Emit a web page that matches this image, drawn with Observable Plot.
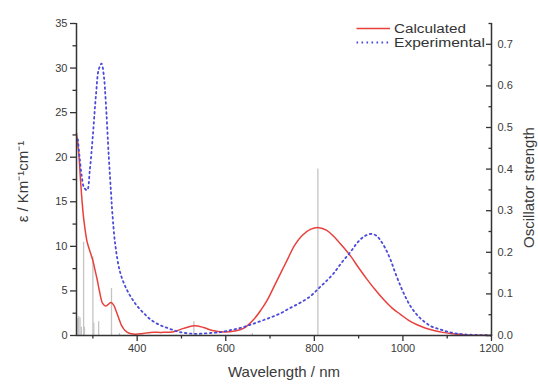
<!DOCTYPE html>
<html><head><meta charset="utf-8">
<script src="https://cdn.jsdelivr.net/npm/d3@7"></script>
<script src="https://cdn.jsdelivr.net/npm/@observablehq/plot@0.6"></script>
<style>
body{margin:0;background:#fff;font-family:"Liberation Sans",Arial,sans-serif;}
#wrap{position:relative;width:538px;height:385px;}
</style></head><body><div id="wrap"></div>
<script>
// Calculated spectrum (ε, left axis)
const calcNm  = [263,268,272,276,280,287,295,300,305,310,316,322,329,335,341,347,352,358,364,372,382,395,410,430,455,480,505,528,550,570,595,620,640,663,680,694,710,724,740,754,772,791,810,828,844,862,882,900,919,938,957,975,995,1013,1032,1050,1070,1090,1108,1125,1145,1170,1200];
const calcEps = [22.7,20.5,17.5,14.8,12.8,10.5,9.2,8.4,7.3,6.2,4.7,3.6,3.3,3.5,3.7,3.4,2.8,2.0,1.2,0.6,0.25,0.15,0.2,0.35,0.35,0.4,0.8,1.1,0.9,0.55,0.4,0.5,0.8,1.8,2.9,4.0,5.6,7.0,8.6,10.0,11.2,11.9,12.1,11.8,11.1,10.1,8.9,7.6,6.3,5.1,4.0,3.1,2.35,1.7,1.2,0.85,0.56,0.35,0.22,0.13,0.07,0.03,0.01];
// Experimental spectrum (ε, left axis)
const expNm  = [266,270,275,280,287,293,300,307,313,319.5,325,329,336,341,344,351,362,377,390,400,415,430,450,468,488,505,525,543,565,588,610,633,655,678,700,724,746,769,791,810,827,844,862,882,897,912,928,940,949,960,972,983,995,1006,1017,1032,1047,1065,1085,1103,1122,1140,1160,1180,1200];
const expEps = [22.0,20.0,17.8,16.6,16.3,18.5,22.5,27.0,29.8,30.5,29.0,26.3,20.0,16.0,13.7,10.0,7.0,5.1,4.0,3.3,2.5,1.8,1.2,0.85,0.5,0.3,0.2,0.2,0.28,0.37,0.6,0.85,1.2,1.6,2.0,2.5,3.1,3.7,4.4,5.3,6.1,7.0,8.2,9.4,10.4,11.1,11.4,11.2,10.7,9.8,8.5,7.0,5.5,4.3,3.3,2.3,1.6,1.0,0.67,0.4,0.22,0.12,0.07,0.04,0.02];
// Oscillator strengths (right axis)
const stickNm = [266,268,271,274,279,281,300,302,313,342,360,528,660,808];
const stickF  = [0.04,0.045,0.042,0.02,0.224,0.02,0.189,0.03,0.033,0.113,0.005,0.033,0.005,0.40];
// Axis ticks
const xMajor = [400,600,800,1000,1200];
const xMinor = [300,500,700,900,1100];
const yMajor = [0,5,10,15,20,25,30,35];
const yMinor = [2.5,7.5,12.5,17.5,22.5,27.5,32.5];
const rMajor = [0,0.1,0.2,0.3,0.4,0.5,0.6,0.7];
const rMinor = [0.05,0.15,0.25,0.35,0.45,0.55,0.65,0.75];
const seriesNames = ["Calculated","Experimental"];
const seriesColors = ["#e8413c","#4b4bdb"];
const DOTS = "1.6,3.4";

const K = 35/0.75; // oscillator strength -> ε scale
const calc = calcNm.map((x,i)=>({x, y:calcEps[i]}));
const exp = expNm.map((x,i)=>({x, y:expEps[i]}));
const sticks = stickNm.map((x,i)=>({x, f:stickF[i]}));
const AX = "#333";
const TXT = "#3a3a3a";

const chart = Plot.plot({
  width:538, height:385,
  marginLeft:76, marginRight:47, marginTop:23, marginBottom:50,
  x:{domain:[263,1200], label:null},
  y:{domain:[0,35], label:null},
  style:{fontFamily:"'Liberation Sans', Arial, sans-serif", fontSize:"11px", color:TXT, background:"#fff"},
  marks:[
    Plot.ruleX(sticks, {x:"x", y1:0, y2:d=>d.f*K, stroke:"#c4c4c4", strokeWidth:1.3}),
    Plot.line(calc, {x:"x", y:"y", stroke:seriesColors[0], strokeWidth:1.5, curve:"catmull-rom"}),
    Plot.line(exp, {x:"x", y:"y", stroke:seriesColors[1], strokeWidth:1.8, strokeDasharray:DOTS, curve:"catmull-rom"}),
    // frame lines
    Plot.ruleY([0], {stroke:AX, strokeWidth:1.5}),
    Plot.ruleX([263], {stroke:AX, strokeWidth:1.5}),
    Plot.ruleX([1200], {stroke:AX, strokeWidth:1.5}),
    // x axis
    Plot.axisX({ticks:xMajor, tickSize:6, tickPadding:3, tickFormat:d=>String(d), label:null, stroke:AX, strokeWidth:1.3}),
    Plot.axisX({ticks:xMinor, tickSize:3.5, tickFormat:()=>"", label:null, stroke:AX, strokeWidth:1.3}),
    // left axis
    Plot.axisY({ticks:yMajor, tickSize:6, tickPadding:3, tickFormat:d=>String(d), label:null, stroke:AX, strokeWidth:1.3}),
    Plot.axisY({ticks:yMinor, tickSize:3.5, tickFormat:()=>"", label:null, stroke:AX, strokeWidth:1.3}),
    // right axis (oscillator strength)
    Plot.axisY({anchor:"right", ticks:rMajor.map(v=>v*K), tickSize:0, tickPadding:6, tickFormat:v=>(v/K).toFixed(1), label:null}),
    Plot.axisY({anchor:"right", ticks:rMajor.map(v=>v*K), tickSize:-6, tickFormat:()=>"", label:null, stroke:AX, strokeWidth:1.3}),
    Plot.axisY({anchor:"right", ticks:rMinor.map(v=>v*K), tickSize:-3.5, tickFormat:()=>"", label:null, stroke:AX, strokeWidth:1.3}),
    // axis titles
    Plot.text(["Wavelength / nm"], {frameAnchor:"bottom", dy:41, fontSize:15, fill:TXT, textAnchor:"middle"}),
    Plot.text(["ε / Km⁻¹cm⁻¹"], {frameAnchor:"left", dx:-53, dy:2, rotate:-90, fontSize:15, fill:TXT, textAnchor:"middle"}),
    Plot.text(["Oscillator strength"], {frameAnchor:"right", dx:38, dy:8, rotate:-90, fontSize:15, fill:TXT, textAnchor:"middle"})
  ]
});
document.getElementById("wrap").appendChild(chart);

// legend (inside plot, top right)
const svg = d3.select(chart);
const lg = svg.append("g").attr("font-family","'Liberation Sans', Arial, sans-serif")
  .attr("font-size",12.5).attr("fill","#333").attr("text-anchor","start");
const ly = [28.5, 42.5];
const by = [33, 47];
const tl = [72, 91];
seriesNames.forEach((name,i)=>{
  lg.append("line").attr("x1",356.5).attr("x2",390).attr("y1",ly[i]).attr("y2",ly[i])
    .attr("stroke",seriesColors[i]).attr("stroke-width",i===1?1.8:1.5)
    .attr("stroke-dasharray", i===1 ? DOTS : null);
  lg.append("text").attr("x",394).attr("y",by[i]).attr("text-anchor","start")
    .attr("textLength",tl[i]).attr("lengthAdjust","spacingAndGlyphs").text(name);
});
</script>
</body></html>
